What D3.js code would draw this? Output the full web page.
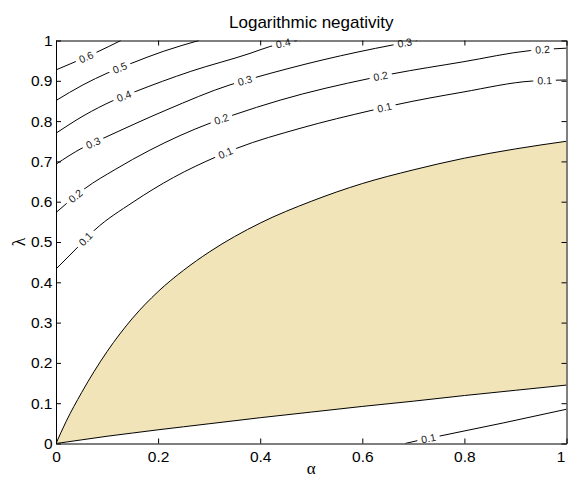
<!DOCTYPE html>
<html><head><meta charset="utf-8">
<script src="https://cdn.jsdelivr.net/npm/d3@7/dist/d3.min.js"></script>
<style>body{margin:0;background:#fff;} svg{display:block;}</style>
</head><body>
<svg id="chart" width="568" height="478"></svg>
<script>
// ---- data ----
const titleText = "Logarithmic negativity";
const xLabelText = "α";
const yLabelText = "λ";
const xTicks = [0, 0.2, 0.4, 0.6, 0.8, 1];
const xTickLabels = ["0", "0.2", "0.4", "0.6", "0.8", "1"];
const yTicks = [0, 0.1, 0.2, 0.3, 0.4, 0.5, 0.6, 0.7, 0.8, 0.9, 1];
const yTickLabels = ["0", "0.1", "0.2", "0.3", "0.4", "0.5", "0.6", "0.7", "0.8", "0.9", "1"];

// separable (zero) region: upper and lower boundary at common alpha values
const boundaryAlpha = [0, 0.01, 0.02, 0.05, 0.1, 0.15, 0.2, 0.25, 0.3, 0.4, 0.5, 0.6, 0.7, 0.8, 0.9, 1];
const boundaryUpper = [0, 0.028, 0.055, 0.126, 0.228, 0.311, 0.377, 0.430, 0.475, 0.547, 0.601, 0.645, 0.679, 0.708, 0.731, 0.750];
const boundaryLower = [0, 0.0018, 0.0036, 0.009, 0.018, 0.026, 0.034, 0.0415, 0.049, 0.064, 0.078, 0.092, 0.105, 0.119, 0.132, 0.145];

// contour lines [alpha, lambda]
const contour06 = [[0,0.927],[0.041,0.949],[0.080,0.971],[0.127,1.0]];
const contour05 = [[0,0.851],[0.053,0.890],[0.102,0.920],[0.147,0.943],[0.210,0.973],[0.280,1.0]];
const contour04 = [[0,0.770],[0.055,0.814],[0.112,0.851],[0.155,0.873],[0.263,0.923],[0.380,0.968],[0.419,0.985],[0.472,1.0]];
const contour03 = [[0,0.693],[0.051,0.733],[0.092,0.757],[0.217,0.828],[0.341,0.890],[0.390,0.908],[0.523,0.952],[0.660,0.989],[0.707,1.0]];
const contour02 = [[0,0.573],[0.021,0.596],[0.057,0.633],[0.116,0.680],[0.184,0.728],[0.302,0.795],[0.347,0.815],[0.439,0.852],[0.615,0.906],[0.658,0.917],[0.797,0.947],[0.929,0.975],[1,0.981]];
const contour01 = [[0,0.433],[0.037,0.480],[0.076,0.530],[0.151,0.599],[0.230,0.660],[0.315,0.712],[0.354,0.7325],[0.478,0.782],[0.621,0.8275],[0.664,0.840],[0.797,0.872],[0.934,0.8995],[1,0.902]];
const contour01Low = [[0.684,0],[0.709,0.0074],[0.752,0.0186],[0.876,0.051],[1,0.085]];

// label positions (alpha) on each contour
const labels06 = [0.059];
const labels05 = [0.125];
const labels04 = [0.133, 0.445];
const labels03 = [0.0725, 0.370, 0.683];
const labels02 = [0.038, 0.324, 0.636, 0.953];
const labels01 = [0.058, 0.332, 0.6435, 0.957];
const labels01Low = [0.7296];

const contours = [
  {text: "0.6", pts: contour06, labels: labels06},
  {text: "0.5", pts: contour05, labels: labels05},
  {text: "0.4", pts: contour04, labels: labels04},
  {text: "0.3", pts: contour03, labels: labels03},
  {text: "0.2", pts: contour02, labels: labels02},
  {text: "0.1", pts: contour01, labels: labels01},
  {text: "0.1", pts: contour01Low, labels: labels01Low}
];

// ---- drawing ----
const svg = d3.select("#chart");
const x = d3.scaleLinear().domain([0, 1]).range([56, 566.5]);
const y = d3.scaleLinear().domain([0, 1]).range([443.5, 40.5]);
const font = "'Liberation Sans', Arial, Helvetica, sans-serif";
const serif = "'Liberation Serif', 'DejaVu Serif', serif";

svg.append("defs").append("clipPath").attr("id", "plotclip")
  .append("rect").attr("x", x(0)).attr("y", y(1))
  .attr("width", x(1) - x(0)).attr("height", y(0) - y(1));

const plot = svg.append("g").attr("clip-path", "url(#plotclip)");

const boundary = boundaryAlpha.map((a, i) => ({a, up: boundaryUpper[i], lo: boundaryLower[i]}));
const area = d3.area().x(d => x(d.a)).y0(d => y(d.lo)).y1(d => y(d.up)).curve(d3.curveMonotoneX);
plot.append("path").datum(boundary).attr("d", area).attr("fill", "#f0e4b8").attr("stroke", "none");

const bLineUp = d3.line().x(d => x(d.a)).y(d => y(d.up)).curve(d3.curveMonotoneX);
const bLineLo = d3.line().x(d => x(d.a)).y(d => y(d.lo)).curve(d3.curveMonotoneX);
plot.append("path").datum(boundary).attr("d", bLineUp).attr("fill", "none").attr("stroke", "#000").attr("stroke-width", 1);
plot.append("path").datum(boundary).attr("d", bLineLo).attr("fill", "none").attr("stroke", "#000").attr("stroke-width", 1);

const cLine = d3.line().x(d => x(d[0])).y(d => y(d[1])).curve(d3.curveMonotoneX);
const labelLayer = svg.append("g");

contours.forEach(c => {
  const path = plot.append("path").datum(c.pts).attr("d", cLine)
    .attr("fill", "none").attr("stroke", "#000").attr("stroke-width", 1);
  const node = path.node();
  const total = node.getTotalLength();
  c.labels.forEach(a => {
    const px = x(a);
    let lo = 0, hi = total;
    for (let k = 0; k < 40; k++) {
      const mid = (lo + hi) / 2;
      if (node.getPointAtLength(mid).x < px) lo = mid; else hi = mid;
    }
    const L = (lo + hi) / 2;
    const p = node.getPointAtLength(L);
    const p0 = node.getPointAtLength(Math.max(0, L - 5));
    const p1 = node.getPointAtLength(Math.min(total, L + 5));
    const ang = Math.atan2(p1.y - p0.y, p1.x - p0.x) * 180 / Math.PI;
    const g = labelLayer.append("g").attr("transform", `translate(${p.x},${p.y}) rotate(${ang})`);
    const rect = g.append("rect").attr("fill", "#fff");
    const t = g.append("text").text(c.text)
      .attr("text-anchor", "middle").attr("dy", "0.36em")
      .attr("font-family", font).attr("font-size", 10.5).attr("fill", "#1a1a1a");
    const w = t.node().getComputedTextLength();
    rect.attr("x", -(w / 2 + 4)).attr("y", -3).attr("width", w + 8).attr("height", 6);
  });
});

// axes (box with inward ticks)
const axG = svg.append("g").attr("font-family", font);
const styleAxis = g => {
  g.selectAll(".domain").attr("stroke", "#000").attr("stroke-width", 1);
  g.selectAll(".tick line").attr("stroke", "#000").attr("stroke-width", 1);
  g.selectAll(".tick text").attr("fill", "#000").attr("font-size", 15.5).attr("font-family", font);
};
const xAxisG = axG.append("g").attr("transform", `translate(0,${y(0)})`)
  .call(d3.axisBottom(x).tickValues(xTicks).tickFormat((d, i) => xTickLabels[i]).tickSizeInner(-5).tickSizeOuter(0).tickPadding(7))
  .call(styleAxis);
// keep the last label ("1") inside the window edge
xAxisG.selectAll(".tick text").filter(d => d === 1).attr("text-anchor", "end").attr("dx", "-0.1em");
axG.append("g").attr("transform", `translate(0,${y(1)})`)
  .call(d3.axisTop(x).tickValues(xTicks).tickFormat("").tickSizeInner(-5).tickSizeOuter(0))
  .call(styleAxis);
axG.append("g").attr("transform", `translate(${x(0)},0)`)
  .call(d3.axisLeft(y).tickValues(yTicks).tickFormat((d, i) => yTickLabels[i]).tickSizeInner(-5).tickSizeOuter(0).tickPadding(3.5))
  .call(styleAxis);
axG.append("g").attr("transform", `translate(${x(1)},0)`)
  .call(d3.axisRight(y).tickValues(yTicks).tickFormat("").tickSizeInner(-5).tickSizeOuter(0))
  .call(styleAxis);
axG.selectAll("g").attr("font-size", null);

// title and axis labels
svg.append("text").attr("x", (x(0) + x(1)) / 2).attr("y", 28)
  .attr("text-anchor", "middle").attr("font-family", font).attr("font-size", 17).attr("fill", "#000")
  .text(titleText);
svg.append("text").attr("x", (x(0) + x(1)) / 2).attr("y", 474)
  .attr("text-anchor", "middle").attr("font-family", serif).attr("font-size", 17).attr("fill", "#000")
  .text(xLabelText);
svg.append("text").attr("transform", `translate(25,${(y(0) + y(1)) / 2}) rotate(-90)`)
  .attr("text-anchor", "middle").attr("font-family", serif).attr("font-size", 18).attr("fill", "#000")
  .text(yLabelText);
</script>
</body></html>
